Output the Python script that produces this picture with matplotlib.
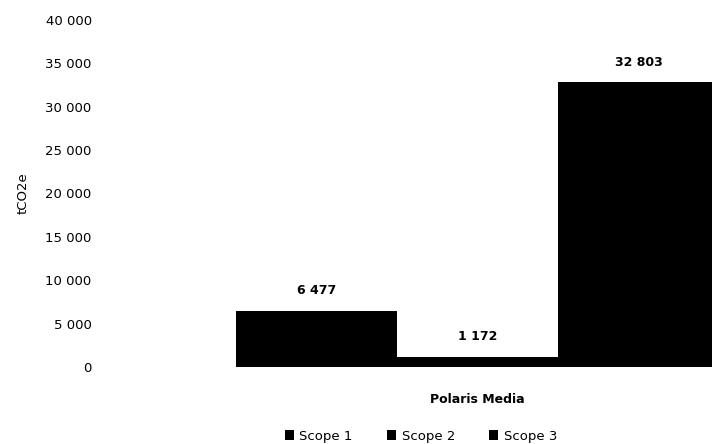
import matplotlib
matplotlib.use("Agg")
import matplotlib.pyplot as plt
from matplotlib.patches import Patch

# data
company = "Polaris Media"
scopes = ["Scope 1", "Scope 2", "Scope 3"]
values = [6477, 1172, 32803]
yticks = [0, 5000, 10000, 15000, 20000, 25000, 30000, 35000, 40000]


def fmt(v):
    return f"{v:,}".replace(",", " ")


fig = plt.figure(figsize=(7.12, 4.44), dpi=100)
ax = fig.add_axes([100 / 712, 77 / 444, 612 / 712, 347 / 444])

positions = [-1, 0, 1]
bars = ax.bar(positions, values, width=1.0, color="black", edgecolor="none")
for b, v in zip(bars, values):
    ax.annotate(fmt(v), (b.get_x() + b.get_width() / 2, v),
                xytext=(0, 10), textcoords="offset points",
                ha="center", va="bottom", fontsize=9, fontweight="bold")

ax.set_xlim(-1.5 - 136 / 161, 1.5 - 7 / 161)
ax.set_ylim(0, 40000)
ax.set_yticks(yticks)
ax.set_yticklabels([fmt(t) for t in yticks], fontsize=9.5)
ax.set_xticks([0])
ax.set_xticklabels([company], fontsize=9, fontweight="bold")
ax.tick_params(axis="y", length=0, pad=6)
ax.tick_params(axis="x", length=0, pad=19)
for s in ax.spines.values():
    s.set_visible(False)

ax.set_ylabel("tCO2e", fontsize=9.5, labelpad=11)

handles = [Patch(facecolor="black", edgecolor="none") for _ in scopes]
fig.legend(handles, scopes, loc="center", bbox_to_anchor=(421 / 712, 1 - 436 / 444),
           ncol=3, frameon=False, fontsize=9.5, handlelength=0.7,
           handleheight=0.7, handletextpad=0.4, columnspacing=2.6)

fig.savefig("out.png", dpi=100)
